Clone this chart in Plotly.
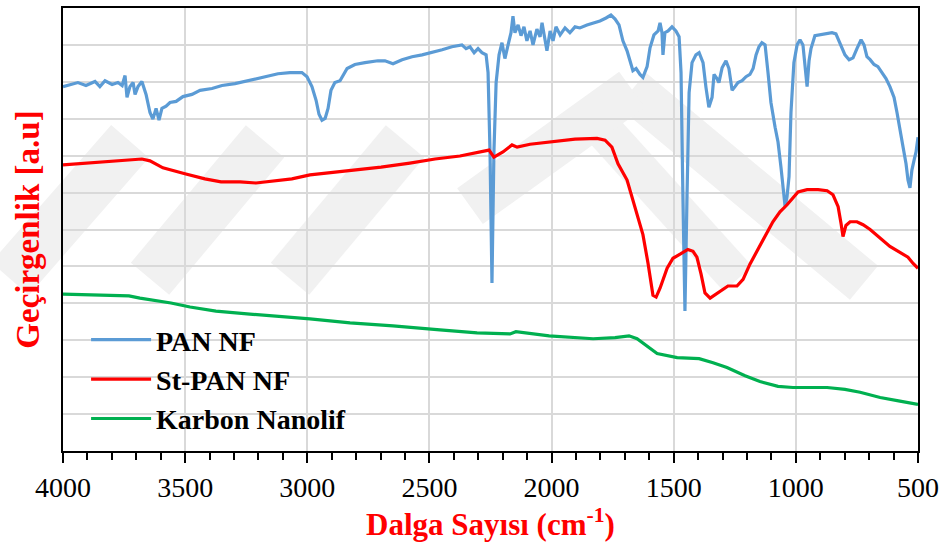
import plotly.graph_objects as go

# FTIR spectra: wavenumber (cm-1) and transmittance in arbitrary units (offset stack)
pan_wn = [4000, 3971, 3939, 3906, 3869, 3849, 3828, 3799, 3775, 3758, 3746, 3738, 3726, 3713,
          3705, 3693, 3677, 3660, 3644, 3632, 3619, 3607, 3595, 3578, 3562, 3537, 3509, 3472,
          3439, 3390, 3349, 3296, 3243, 3202, 3161, 3120, 3071, 3022, 3001, 2981, 2964, 2952,
          2940, 2927, 2915, 2903, 2887, 2866, 2837, 2805, 2764, 2711, 2682, 2649, 2612, 2571,
          2530, 2489, 2448, 2408, 2367, 2350, 2334, 2317, 2301, 2285, 2268, 2260, 2252, 2244,
          2236, 2227, 2215, 2203, 2191, 2178, 2166, 2158, 2150, 2137, 2125, 2113, 2101, 2088,
          2076, 2060, 2047, 2039, 2027, 2019, 2006, 1994, 1982, 1965, 1945, 1925, 1904, 1884,
          1855, 1826, 1802, 1777, 1757, 1740, 1724, 1708, 1691, 1679, 1667, 1654, 1638, 1626,
          1609, 1597, 1581, 1564, 1556, 1548, 1544, 1536, 1523, 1507, 1491, 1478, 1470, 1462,
          1454, 1446, 1437, 1425, 1409, 1396, 1380, 1368, 1356, 1343, 1335, 1323, 1315, 1302,
          1286, 1274, 1261, 1249, 1237, 1220, 1204, 1188, 1175, 1163, 1151, 1139, 1126, 1114,
          1102, 1085, 1073, 1061, 1053, 1044, 1036, 1028, 1020, 1008, 995, 983, 971, 963, 954,
          946, 938, 922, 901, 877, 852, 836, 819, 799, 782, 766, 750, 733, 721, 709, 696, 680,
          664, 647, 631, 615, 598, 586, 574, 561, 549, 541, 533, 525, 516, 508, 500]
pan_t = [9.87, 9.93, 9.98, 9.90, 10.01, 9.87, 10.03, 9.93, 9.98, 9.90, 10.17, 9.58, 9.87, 9.98,
         9.66, 9.87, 10.01, 9.66, 9.17, 8.99, 9.28, 8.96, 9.28, 9.34, 9.44, 9.47, 9.60, 9.66,
         9.77, 9.82, 9.90, 9.95, 10.03, 10.09, 10.17, 10.22, 10.25, 10.25, 10.14, 9.87, 9.50, 9.12,
         8.96, 9.01, 9.28, 9.77, 9.98, 10.03, 10.36, 10.47, 10.52, 10.57, 10.57, 10.49, 10.60, 10.68,
         10.73, 10.79, 10.87, 10.95, 11.00, 10.90, 10.95, 10.79, 10.90, 10.79, 10.73, 10.25, 8.10, 4.55,
         8.10, 9.98, 10.73, 11.06, 10.63, 11.00, 11.33, 11.78, 11.33, 11.54, 11.25, 11.49, 11.11, 11.38,
         11.00, 11.43, 11.22, 11.60, 11.16, 10.84, 11.38, 11.11, 11.49, 11.27, 11.46, 11.33, 11.49, 11.46,
         11.54, 11.60, 11.65, 11.73, 11.81, 11.70, 11.54, 11.11, 10.84, 10.57, 10.30, 10.36, 10.20, 10.12,
         10.41, 10.92, 11.27, 11.38, 11.60, 11.33, 10.73, 11.33, 11.38, 11.49, 11.38, 11.22, 10.25, 6.75,
         3.79, 6.75, 9.71, 10.52, 10.73, 10.79, 10.52, 9.85, 9.31, 9.58, 10.20, 10.09, 9.98, 10.38,
         10.57, 10.36, 9.77, 9.87, 9.98, 10.03, 10.14, 10.20, 10.36, 10.73, 10.95, 11.06, 11.00, 10.25,
         9.44, 8.77, 8.37, 7.69, 7.16, 6.62, 6.89, 7.43, 9.17, 10.52, 11.00, 11.14, 11.00, 10.52, 9.87,
         10.57, 10.90, 11.25, 11.27, 11.30, 11.33, 11.30, 11.06, 10.73, 10.60, 10.65, 10.90, 11.14, 11.00,
         10.68, 10.60, 10.47, 10.41, 10.25, 10.09, 9.87, 9.58, 9.17, 8.77, 8.23, 7.78, 7.34, 7.13, 7.61,
         7.88, 8.10, 8.50]

stpan_wn = [4000, 3889, 3767, 3677, 3644, 3591, 3501, 3419, 3353, 3275, 3210, 3132, 3063, 2989,
            2866, 2698, 2580, 2477, 2375, 2293, 2256, 2236, 2199, 2162, 2141, 2088, 1994, 1904,
            1814, 1781, 1753, 1728, 1691, 1658, 1626, 1605, 1585, 1572, 1556, 1527, 1503, 1474,
            1442, 1421, 1405, 1388, 1372, 1351, 1310, 1278, 1241, 1216, 1188, 1159, 1126, 1094,
            1065, 1036, 991, 954, 909, 872, 848, 827, 815, 807, 795, 778, 750, 725, 696, 655,
            615, 574, 541, 520, 500]
stpan_t = [7.75, 7.80, 7.86, 7.91, 7.86, 7.67, 7.51, 7.37, 7.29, 7.29, 7.26, 7.32, 7.37, 7.48,
           7.56, 7.69, 7.80, 7.91, 7.99, 8.10, 8.15, 7.96, 8.10, 8.29, 8.23, 8.31, 8.39, 8.45,
           8.47, 8.42, 8.23, 7.78, 7.34, 6.62, 5.86, 5.08, 4.22, 4.17, 4.41, 4.95, 5.22, 5.33,
           5.46, 5.41, 5.25, 4.79, 4.28, 4.14, 4.33, 4.47, 4.47, 4.65, 5.06, 5.41, 5.84, 6.21,
           6.48, 6.67, 7.02, 7.08, 7.08, 7.05, 6.94, 6.62, 6.16, 5.81, 6.11, 6.21, 6.21, 6.13,
           6.00, 5.78, 5.54, 5.38, 5.25, 5.08, 4.95]

cnf_wn = [4000, 3869, 3730, 3685, 3603, 3558, 3480, 3374, 3235, 2989, 2825, 2649, 2457, 2305,
          2170, 2146, 2010, 1830, 1740, 1683, 1650, 1605, 1568, 1486, 1396, 1339, 1282, 1208,
          1147, 1073, 1012, 872, 799, 737, 655, 574, 500]
cnf_t = [4.25, 4.22, 4.20, 4.14, 4.06, 4.01, 3.90, 3.79, 3.71, 3.58, 3.47, 3.39, 3.28, 3.20,
         3.17, 3.23, 3.12, 3.04, 3.07, 3.12, 3.04, 2.82, 2.64, 2.53, 2.50, 2.39, 2.26, 2.04,
         1.88, 1.75, 1.72, 1.72, 1.67, 1.59, 1.45, 1.35, 1.26]

series_names = ["PAN NF", "St-PAN NF", "Karbon Nanolif"]
series_colors = ["#5B9BD5", "#FF0000", "#00B050"]
x_ticks = [4000, 3500, 3000, 2500, 2000, 1500, 1000, 500]

SERIF = "'Times New Roman', 'Liberation Serif', serif"

# light background stripes of the page watermark, as (x0, y0, x1, y1, width) in pixels
W, H = 947, 551
ML, MR, MT, MB = 63, 29, 6, 100
watermark_strokes = [
    (632, 88, 864, 282, 44),
    (585, 108, 738, 278, 38),
    (632, 88, 470, 205, 44),
    (130, 140, 10, 278, 50),
    (265, 140, 150, 278, 50),
    (405, 140, 290, 278, 50),
]


def to_domain(px, py):
    return (px - ML) / (W - ML - MR), (H - MB - py) / (H - MB - MT)


fig = go.Figure()
for name, wn, t, color in zip(series_names, [pan_wn, stpan_wn, cnf_wn],
                              [pan_t, stpan_t, cnf_t], series_colors):
    fig.add_trace(go.Scatter(x=wn, y=t, mode="lines", name=name,
                             line=dict(color=color, width=3.2)))

# drawn under the gridlines, inside the plot area
for x0, y0, x1, y1, w in watermark_strokes:
    a0, b0 = to_domain(x0, y0)
    a1, b1 = to_domain(x1, y1)
    fig.add_shape(type="line", xref="x domain", yref="y domain",
                  x0=a0, y0=b0, x1=a1, y1=b1,
                  line=dict(color="#f1f1f1", width=w), layer="below")

fig.update_layout(
    width=W, height=H,
    margin=dict(l=ML, r=MR, t=MT, b=MB),
    paper_bgcolor="white", plot_bgcolor="white",
    showlegend=True,
    legend=dict(x=0.027, y=0.307, xanchor="left", yanchor="top",
                bgcolor="rgba(0,0,0,0)", itemwidth=60,
                font=dict(family=SERIF, size=28, color="black", weight="bold"),
                tracegroupgap=0),
)

fig.update_xaxes(
    range=[4000, 500], tickvals=x_ticks, ticktext=[str(v) for v in x_ticks],
    showgrid=True, gridcolor="#d9d9d9", gridwidth=2,
    showline=True, linecolor="black", linewidth=2, mirror=True,
    ticks="outside", ticklen=10, tickwidth=1.5, tickcolor="black",
    minor=dict(dtick=100, ticks="outside", ticklen=7, tickwidth=1.5, tickcolor="black",
               showgrid=False),
    tickfont=dict(family=SERIF, size=28, color="black"),
    title=dict(text="Dalga Sayısı (cm<sup>-1</sup>)", standoff=8,
               font=dict(family=SERIF, size=31, color="#FF0000", weight="bold")),
    zeroline=False,
)
fig.update_yaxes(
    range=[0, 12], dtick=1, showticklabels=False,
    showgrid=True, gridcolor="#d9d9d9", gridwidth=2,
    showline=True, linecolor="black", linewidth=2, mirror=True,
    ticks="", zeroline=False,
    title=dict(text="Geçirgenlik [a.u]", standoff=11,
               font=dict(family=SERIF, size=33, color="#FF0000", weight="bold")),
)

fig.write_html("out.html")
